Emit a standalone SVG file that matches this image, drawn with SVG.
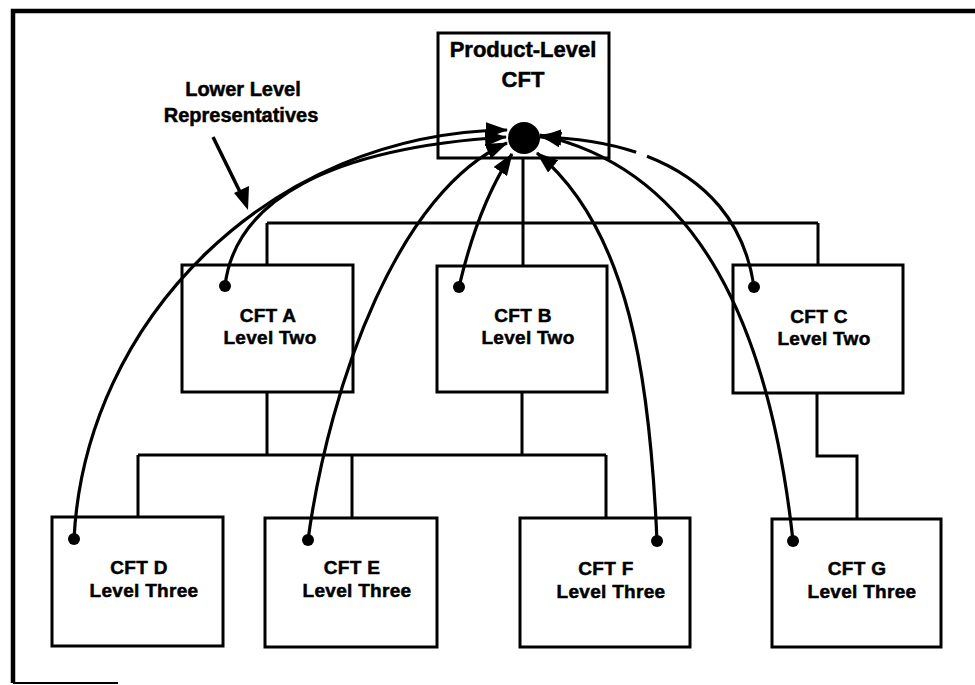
<svg xmlns="http://www.w3.org/2000/svg" width="975" height="685" viewBox="0 0 975 685">
  <style>
    .box { fill: #fff; stroke: #000; stroke-width: 3; }
    .tree { fill: none; stroke: #000; stroke-width: 3; }
    .rep { fill: none; stroke: #000; stroke-width: 3.2; marker-end: url(#head); }
    .dot { fill: #000; }
    text { font-family: "Liberation Sans", Arial, sans-serif; font-weight: bold; fill: #000; stroke: #000; stroke-width: 0.5; text-anchor: middle; }
    .lbl { font-size: 19px; letter-spacing: 0.3px; }
    .title { font-size: 22px; }
    .note { font-size: 20px; }
  </style>
  <defs>
    <marker id="head" markerUnits="userSpaceOnUse" markerWidth="22" markerHeight="16" refX="21" refY="8" orient="auto">
      <path d="M0,0 L22,8 L0,16 z" fill="#000"/>
    </marker>
  </defs>

  <rect width="975" height="685" fill="#fff"/>

  <!-- frame -->
  <path d="M975,11 H13 V683" fill="none" stroke="#000" stroke-width="4.5"/>
  <path d="M13,683 H118" fill="none" stroke="#000" stroke-width="2"/>

  <!-- hierarchy connectors -->
  <g id="tree">
    <path class="tree" d="M523,158 V223 M267,223 H818 M267,223 V265 M523,223 V266 M818,223 V265"/>
    <path class="tree" d="M267,392 V455 M522,392 V455 M138,455 H606 M138,455 V517 M352,455 V518 M606,455 V518"/>
    <path class="tree" d="M817,393 V456 H857 V519"/>
  </g>

  <!-- nodes -->
  <g id="product">
    <rect class="box" x="438" y="33" width="171" height="125"/>
    <text class="title" x="523" y="57">Product-Level</text>
    <text class="title" x="523" y="87">CFT</text>
  </g>
  <g id="cftA">
    <rect class="box" x="182" y="265" width="171" height="127"/>
    <text class="lbl" x="268" y="322">CFT A</text>
    <text class="lbl" x="270" y="344">Level Two</text>
  </g>
  <g id="cftB">
    <rect class="box" x="437" y="266" width="170" height="126"/>
    <text class="lbl" x="523" y="322">CFT B</text>
    <text class="lbl" x="528" y="344">Level Two</text>
  </g>
  <g id="cftC">
    <rect class="box" x="733" y="265" width="170" height="128"/>
    <text class="lbl" x="819" y="323">CFT C</text>
    <text class="lbl" x="824" y="345">Level Two</text>
  </g>
  <g id="cftD">
    <rect class="box" x="52" y="517" width="171" height="129"/>
    <text class="lbl" x="139" y="574">CFT D</text>
    <text class="lbl" x="144" y="597">Level Three</text>
  </g>
  <g id="cftE">
    <rect class="box" x="265" y="518" width="172" height="129"/>
    <text class="lbl" x="352" y="574">CFT E</text>
    <text class="lbl" x="357" y="597">Level Three</text>
  </g>
  <g id="cftF">
    <rect class="box" x="520" y="518" width="170" height="129"/>
    <text class="lbl" x="606" y="575">CFT F</text>
    <text class="lbl" x="611" y="598">Level Three</text>
  </g>
  <g id="cftG">
    <rect class="box" x="772" y="519" width="169" height="128"/>
    <text class="lbl" x="857" y="575">CFT G</text>
    <text class="lbl" x="862" y="598">Level Three</text>
  </g>

  <!-- representative links into the product-level hub -->
  <g id="links">
    <circle class="dot" cx="524" cy="138" r="16"/>
    <path class="rep" d="M74,539 C85,320 270,133 507,130"/>
    <path class="rep" d="M225,286 C235,200 330,148 506,137"/>
    <path class="rep" d="M308,540 C330,380 400,190 507,143"/>
    <path class="rep" d="M459,287 C470,240 488,190 512,154"/>
    <path class="rep" d="M657,541 C650,380 630,230 537,153"/>
    <path class="rep" d="M793,541 C770,330 700,170 540,135"/>
    <path class="rep" d="M754,287 C740,190 660,140 540,137" pathLength="100" stroke-dasharray="62 4 100"/>
    <circle class="dot" cx="74" cy="539" r="6"/>
    <circle class="dot" cx="225" cy="286" r="6"/>
    <circle class="dot" cx="308" cy="540" r="6"/>
    <circle class="dot" cx="459" cy="287" r="6"/>
    <circle class="dot" cx="657" cy="541" r="6"/>
    <circle class="dot" cx="793" cy="541" r="6"/>
    <circle class="dot" cx="754" cy="287" r="6"/>
  </g>

  <!-- annotation -->
  <g id="note">
    <text class="note" x="243" y="96">Lower Level</text>
    <text class="note" x="241" y="122">Representatives</text>
    <path d="M213,137 L242,196" fill="none" stroke="#000" stroke-width="3.5"/>
    <path d="M248,210 L234,193 L249,186 z" fill="#000"/>
  </g>
</svg>
